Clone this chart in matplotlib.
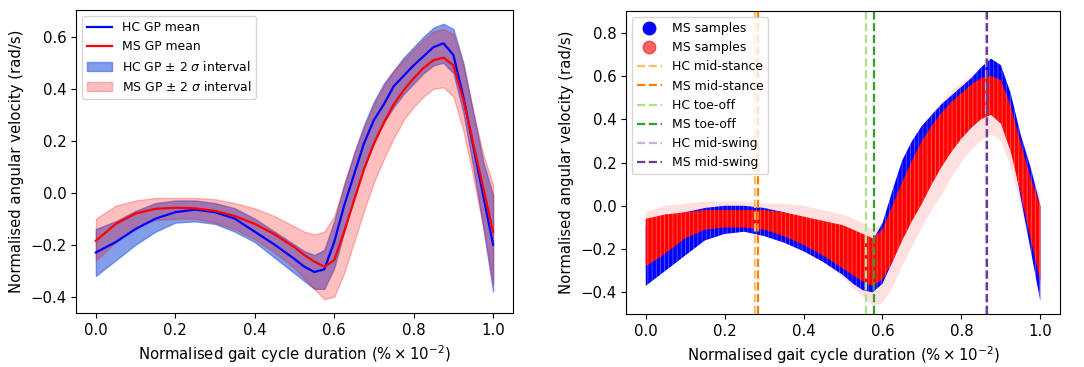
import matplotlib
matplotlib.use('Agg')
import matplotlib.pyplot as plt
from matplotlib.lines import Line2D

# gait cycle positions where values were read
x = [0, 0.05, 0.1, 0.15, 0.2, 0.25, 0.3, 0.35, 0.4, 0.45,
     0.5, 0.525, 0.55, 0.575, 0.6, 0.625, 0.65, 0.675, 0.7, 0.725, 0.75,
     0.775, 0.8, 0.825, 0.85, 0.875, 0.9, 0.925, 0.95, 0.975, 1.0]

# left panel: GP means and +-2 sigma intervals
hc_mean = [-0.23, -0.19, -0.14, -0.10, -0.075, -0.065, -0.075, -0.10, -0.15, -0.20,
           -0.255, -0.285, -0.305, -0.295, -0.19, -0.05, 0.07, 0.19, 0.28, 0.34, 0.41,
           0.45, 0.49, 0.525, 0.56, 0.575, 0.53, 0.37, 0.18, -0.01, -0.20]
ms_mean = [-0.185, -0.12, -0.08, -0.062, -0.058, -0.06, -0.07, -0.09, -0.12, -0.16,
           -0.21, -0.24, -0.265, -0.285, -0.26, -0.15, -0.03, 0.09, 0.19, 0.27, 0.34,
           0.395, 0.44, 0.48, 0.51, 0.52, 0.49, 0.36, 0.19, 0.02, -0.15]
hc_upper = [-0.14, -0.11, -0.07, -0.04, -0.03, -0.03, -0.04, -0.06, -0.10, -0.15,
            -0.20, -0.225, -0.24, -0.22, -0.11, 0.03, 0.15, 0.26, 0.35, 0.42, 0.47,
            0.52, 0.56, 0.60, 0.635, 0.65, 0.63, 0.50, 0.31, 0.12, -0.01]
hc_lower = [-0.32, -0.26, -0.20, -0.15, -0.115, -0.11, -0.12, -0.15, -0.19, -0.25,
            -0.31, -0.34, -0.37, -0.37, -0.29, -0.15, -0.02, 0.10, 0.19, 0.27, 0.33,
            0.38, 0.42, 0.46, 0.49, 0.50, 0.46, 0.31, 0.10, -0.13, -0.38]
ms_upper = [-0.10, -0.05, -0.03, -0.02, -0.02, -0.02, -0.025, -0.04, -0.06, -0.09,
            -0.13, -0.15, -0.16, -0.15, -0.09, 0.03, 0.15, 0.25, 0.34, 0.41, 0.47,
            0.51, 0.55, 0.59, 0.62, 0.63, 0.61, 0.49, 0.31, 0.15, 0.03]
ms_lower = [-0.26, -0.19, -0.13, -0.105, -0.10, -0.10, -0.115, -0.14, -0.18, -0.23,
            -0.29, -0.33, -0.37, -0.41, -0.40, -0.31, -0.19, -0.07, 0.04, 0.13, 0.21,
            0.28, 0.33, 0.37, 0.40, 0.405, 0.37, 0.24, 0.06, -0.13, -0.35]

# right panel: sample envelopes
hc_smp_lo = [-0.37, -0.30, -0.23, -0.16, -0.13, -0.12, -0.14, -0.17, -0.21, -0.26,
             -0.32, -0.36, -0.39, -0.40, -0.36, -0.26, -0.15, -0.05, 0.04, 0.14, 0.23,
             0.30, 0.37, 0.43, 0.48, 0.50, 0.45, 0.29, 0.04, -0.20, -0.44]
hc_smp_hi = [-0.09, -0.05, -0.03, -0.01, 0.0, 0.0, -0.01, -0.03, -0.06, -0.10,
             -0.14, -0.16, -0.19, -0.16, -0.08, 0.07, 0.21, 0.30, 0.37, 0.42, 0.47,
             0.51, 0.55, 0.59, 0.64, 0.68, 0.65, 0.52, 0.33, 0.18, 0.0]
ms_smp_lo = [-0.28, -0.22, -0.15, -0.11, -0.10, -0.10, -0.11, -0.14, -0.18, -0.23,
             -0.29, -0.32, -0.35, -0.37, -0.34, -0.26, -0.16, -0.07, 0.01, 0.10, 0.18,
             0.25, 0.31, 0.36, 0.40, 0.42, 0.38, 0.25, 0.06, -0.15, -0.35]
ms_smp_hi = [-0.06, -0.04, -0.03, -0.02, -0.02, -0.02, -0.02, -0.03, -0.05, -0.07,
             -0.09, -0.11, -0.13, -0.15, -0.11, 0.0, 0.11, 0.21, 0.30, 0.37, 0.43,
             0.48, 0.52, 0.56, 0.59, 0.60, 0.58, 0.46, 0.29, 0.13, 0.0]
ms_faint_lo = [-0.30, -0.24, -0.17, -0.13, -0.12, -0.12, -0.13, -0.16, -0.20, -0.26,
               -0.33, -0.38, -0.42, -0.46, -0.45, -0.38, -0.28, -0.19, -0.10, -0.02, 0.05,
               0.13, 0.20, 0.26, 0.30, 0.33, 0.30, 0.18, 0.0, -0.18, -0.37]
ms_faint_hi = [-0.03, 0.0, 0.01, 0.02, 0.02, 0.02, 0.01, 0.01, 0.0, -0.02,
               -0.04, -0.06, -0.08, -0.11, -0.08, 0.05, 0.18, 0.28, 0.36, 0.43, 0.48,
               0.53, 0.57, 0.60, 0.63, 0.66, 0.64, 0.51, 0.34, 0.19, 0.04]

# gait events
event_labels = ['HC mid-stance', 'MS mid-stance', 'HC toe-off', 'MS toe-off', 'HC mid-swing', 'MS mid-swing']
event_x = [0.276, 0.285, 0.558, 0.578, 0.862, 0.865]
event_colors = ['#fdbf6f', '#ff7f00', '#b2df8a', '#33a02c', '#cab2d6', '#6a3d9a']

plt.rcParams['font.size'] = 10.7
plt.rcParams['hatch.linewidth'] = 0.6

fig = plt.figure(figsize=(10.84, 3.67), dpi=100)
ax1 = fig.add_axes([0.0701, 0.1471, 0.4031, 0.8256])
ax2 = fig.add_axes([0.5775, 0.1444, 0.4004, 0.8256])

# ---- left: GP fits
ax1.fill_between(x, hc_lower, hc_upper, color='royalblue', alpha=0.65, label=r'HC GP $\pm$ 2 $\sigma$ interval')
ax1.fill_between(x, ms_lower, ms_upper, color='red', alpha=0.25, label=r'MS GP $\pm$ 2 $\sigma$ interval')
ax1.plot(x, hc_mean, color='blue', lw=1.6, label='HC GP mean')
ax1.plot(x, ms_mean, color='red', lw=1.6, label='MS GP mean')
h, l = ax1.get_legend_handles_labels()
order = [2, 3, 0, 1]
ax1.legend([h[i] for i in order], [l[i] for i in order], loc='upper left', fontsize=8.9)
ax1.set_xlabel(r'Normalised gait cycle duration ($\% \times 10^{-2}$)')
ax1.set_ylabel('Normalised angular velocity (rad/s)')

# ---- right: samples + events
ax2.fill_between(x, ms_faint_lo, ms_faint_hi, facecolor=(1, 0, 0, 0.12), edgecolor='none')
ax2.fill_between(x, hc_smp_lo, hc_smp_hi, facecolor='blue', edgecolor=(1, 1, 1, 0.35), hatch='||||', lw=0)
ax2.fill_between(x, ms_smp_lo, ms_smp_hi, facecolor='red', edgecolor=(1, 1, 1, 0.35), hatch='||||', lw=0)
for xv, c in zip(event_x, event_colors):
    ax2.axvline(xv, color=c, ls='--', lw=1.6)
ax2.set_ylim(-0.5, 0.9)
handles = [Line2D([], [], ls='none', marker='o', color='blue', markersize=9),
           Line2D([], [], ls='none', marker='o', color='red', alpha=0.6, markersize=9)]
handles += [Line2D([], [], ls='--', color=c, lw=1.6) for c in event_colors]
ax2.legend(handles, ['MS samples', 'MS samples'] + event_labels, loc='upper left', fontsize=8.9)
ax2.set_xlabel(r'Normalised gait cycle duration ($\% \times 10^{-2}$)')
ax2.set_ylabel('Normalised angular velocity (rad/s)')

fig.savefig('out.png', dpi=100)
